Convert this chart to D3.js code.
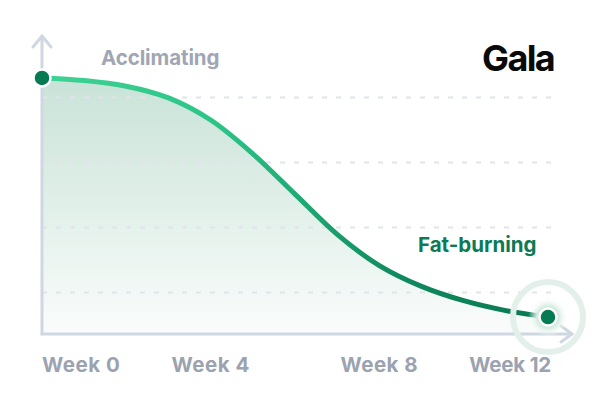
<!DOCTYPE html>
<html>
<head>
<meta charset="utf-8">
<script src="https://cdn.jsdelivr.net/npm/d3@7/dist/d3.min.js"></script>
<style>
  html, body { margin: 0; padding: 0; background: #ffffff; }
  svg { display: block; }
  text { font-family: Inter, "Open Sans", sans-serif; font-weight: 700; }
</style>
</head>
<body>
<svg id="chart" width="616" height="397"></svg>
<script>
// ---- Data ----
const weeks = [0, 1, 2, 3, 4, 5, 6, 7, 8, 9, 10, 11, 12];
const values = [98.5, 97.5, 95.3, 90.8, 82.3, 69.3, 53.8, 38.3, 26.3, 18.3, 12.8, 9.0, 6.5];
const tickWeeks = [0, 4, 8, 12];
const tickLabels = ["Week 0", "Week 4", "Week 8", "Week 12"];
const gridValues = [16, 41, 66, 91];
const phaseLabels = ["Acclimating", "Fat-burning"];
const brand = "Gala";

// ---- Layout ----
const svg = d3.select("#chart");
const x = d3.scaleLinear().domain([0, 12]).range([42, 548]);
const y = d3.scaleLinear().domain([0, 100]).range([334, 74]);

const data = weeks.map((w, i) => ({ w, v: values[i] }));

const defs = svg.append("defs");
const lg = defs.append("linearGradient").attr("id", "lineGrad")
  .attr("gradientUnits", "userSpaceOnUse")
  .attr("x1", x(0)).attr("x2", x(12)).attr("y1", 0).attr("y2", 0);
lg.append("stop").attr("offset", "0%").attr("stop-color", "#3ed394");
lg.append("stop").attr("offset", "35%").attr("stop-color", "#2bc487");
lg.append("stop").attr("offset", "70%").attr("stop-color", "#0f8a5e");
lg.append("stop").attr("offset", "100%").attr("stop-color", "#0a7852");

const ag = defs.append("linearGradient").attr("id", "areaGrad")
  .attr("gradientUnits", "userSpaceOnUse")
  .attr("x1", 0).attr("x2", 0).attr("y1", y(98)).attr("y2", y(0));
ag.append("stop").attr("offset", "0%").attr("stop-color", "#c9e3d8");
ag.append("stop").attr("offset", "100%").attr("stop-color", "#fafcfb");

const rg = defs.append("radialGradient").attr("id", "glow");
rg.append("stop").attr("offset", "0%").attr("stop-color", "#b6dcc9");
rg.append("stop").attr("offset", "55%").attr("stop-color", "#d6ece1");
rg.append("stop").attr("offset", "100%").attr("stop-color", "#ffffff").attr("stop-opacity", 0);

// Area
const curve = d3.curveCatmullRom.alpha(0.5);
const area = d3.area().x(d => x(d.w)).y0(y(0)).y1(d => y(d.v)).curve(curve);
svg.append("path").datum(data).attr("d", area).attr("fill", "url(#areaGrad)");

// Grid lines
svg.append("g").selectAll("line").data(gridValues).join("line")
  .attr("x1", x(0)).attr("x2", 556)
  .attr("y1", d => y(d)).attr("y2", d => y(d))
  .attr("stroke", "#e2e4ea").attr("stroke-width", 2)
  .attr("stroke-dasharray", "5 9");

// Axes
const axisColor = "#cfd7e3";
const axG = svg.append("g").attr("stroke", axisColor).attr("stroke-width", 3)
  .attr("fill", "none").attr("stroke-linecap", "round").attr("stroke-linejoin", "round");
axG.append("line").attr("x1", x(0)).attr("x2", x(0)).attr("y1", y(0)).attr("y2", 36);
axG.append("path").attr("d", `M${x(0) - 9},${47} L${x(0)},${36} L${x(0) + 9},${47}`);
axG.append("line").attr("x1", x(0)).attr("x2", 572).attr("y1", y(0)).attr("y2", y(0));
axG.append("path").attr("d", `M${561},${y(0) - 8} L${572},${y(0)} L${561},${y(0) + 8}`);

// Line
const line = d3.line().x(d => x(d.w)).y(d => y(d.v)).curve(curve);
svg.append("path").datum(data).attr("d", line)
  .attr("fill", "none").attr("stroke", "url(#lineGrad)")
  .attr("stroke-width", 5).attr("stroke-linecap", "round");

// End halo
const last = data[data.length - 1], first = data[0];
svg.append("circle").attr("cx", x(last.w)).attr("cy", y(last.v)).attr("r", 35)
  .attr("fill", "none").attr("stroke", "#e3f0ea").attr("stroke-width", 6);
svg.append("circle").attr("cx", x(last.w)).attr("cy", y(last.v)).attr("r", 20)
  .attr("fill", "url(#glow)");

// Dots
svg.selectAll("circle.dot").data([first, last]).join("circle").attr("class", "dot")
  .attr("cx", d => x(d.w)).attr("cy", d => y(d.v)).attr("r", 8.5)
  .attr("fill", "#067a52").attr("stroke", "#ffffff").attr("stroke-width", 2.5);

// Tick labels
const nT = tickWeeks.length;
svg.append("g").selectAll("text").data(tickWeeks).join("text")
  .attr("x", d => x(d))
  .attr("y", 372)
  .attr("dx", (d, i) => i === nT - 1 ? 3 : 0)
  .attr("text-anchor", (d, i) => i === 0 ? "start" : (i === nT - 1 ? "end" : "middle"))
  .attr("font-size", 20.5).attr("letter-spacing", (d, i) => i === nT - 1 ? -0.2 : 0.5)
  .attr("fill", "#9ba2b0")
  .text((d, i) => tickLabels[i]);

// Phase labels
svg.append("text").attr("x", 101).attr("y", 65).attr("font-size", 20.5)
  .attr("letter-spacing", -0.1)
  .attr("fill", "#a0a6b4").text(phaseLabels[0]);
svg.append("text").attr("x", 418).attr("y", 252).attr("font-size", 20.5)
  .attr("fill", "#0b7a55").text(phaseLabels[1]);

// Brand
svg.append("text").attr("x", 482).attr("y", 71).attr("font-size", 36)
  .attr("font-weight", 900).attr("letter-spacing", -1.6)
  .attr("fill", "#0a0a0a").text(brand);
</script>
</body>
</html>
